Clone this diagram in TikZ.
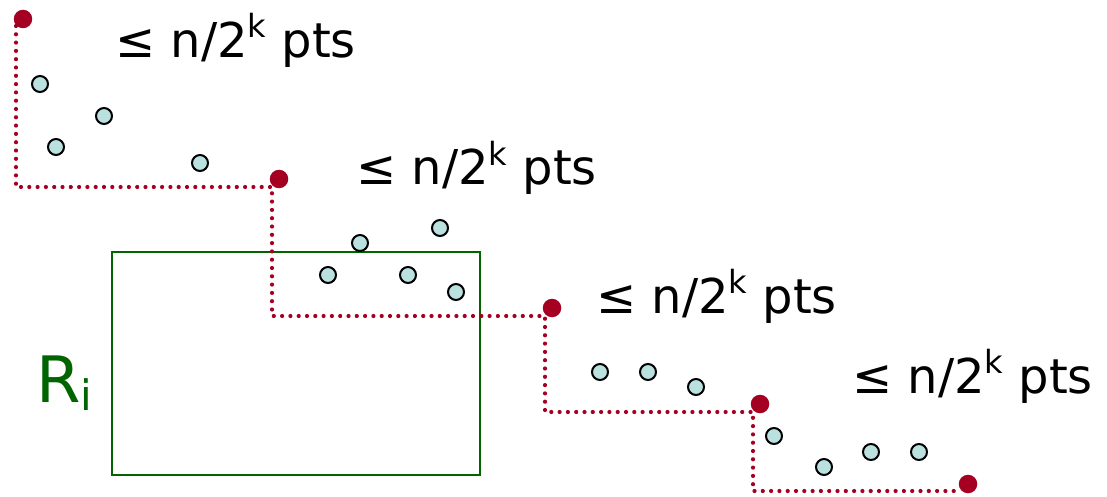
\documentclass[tikz,border=0pt]{standalone}
\usepackage{fontspec}
\usepackage{tikz}
\usetikzlibrary{positioning, calc}
\newfontfamily\lblfont{DejaVu Sans}
\definecolor{dotred}{HTML}{A50021}
\definecolor{ptblue}{HTML}{BAE0E0}
\definecolor{boxgreen}{HTML}{006400}
\newcommand{\supk}{\raisebox{20pt}{\fontsize{32}{32}\selectfont k}}

\begin{document}
\begin{tikzpicture}[x=1pt, y=-1pt,
    corner/.style={circle, fill=dotred, inner sep=0pt, minimum size=18.5pt},
    pt/.style={circle, draw=black, fill=ptblue, line width=2pt, inner sep=0pt, minimum size=16pt},
    stair/.style={dotred, line width=4.2pt, line cap=round, dash pattern=on 0pt off 8.3pt},
    region/.style={draw=boxgreen, line width=2pt, inner sep=0pt, minimum width=368pt, minimum height=223pt},
    count/.style={anchor=base west, inner sep=0pt, font=\lblfont\fontsize{48}{48}\selectfont}
]
\useasboundingbox (0,0) rectangle (1107,497);

% the region
\node[region] (box) at (296,363.5) {};
\node[anchor=base west, inner sep=0pt, text=boxgreen, font=\lblfont\fontsize{64}{64}\selectfont] (rlbl) at (36,402)
    {R\raisebox{-8pt}{\fontsize{42}{42}\selectfont i}};

% staircase corners
\node[corner] (c1) at (23,19)   {};
\node[corner] (c2) at (279,179) {};
\node[corner] (c3) at (552,308) {};
\node[corner] (c4) at (760,404) {};
\node[corner] (c5) at (968,484) {};

\draw[stair] ($(c1)+(-7,7)$) |- ($(c2)+(-7,8)$) |- ($(c3)+(-7,8)$)
             |- ($(c4)+(-7,8)$) |- ($(c5)+(-7,7)$);

% points
\foreach \x/\y [count=\i] in {40/84, 104/116, 56/147, 200/163,
                             360/243, 440/228, 328/275, 408/275, 456/292,
                             600/372, 648/372, 696/387,
                             774/436, 824/467, 871/452, 919/452}
    \node[pt] (p\i) at (\x,\y) {};

% counts
\node[count] (n1) at (115,58)  {≤ n/2\supk{} pts};
\node[count] (n2) at (356,185) {≤ n/2\supk{} pts};
\node[count] (n3) at (596,313) {≤ n/2\supk{} pts};
\node[count] (n4) at (852,393) {≤ n/2\supk{} pts};
\end{tikzpicture}
\end{document}
